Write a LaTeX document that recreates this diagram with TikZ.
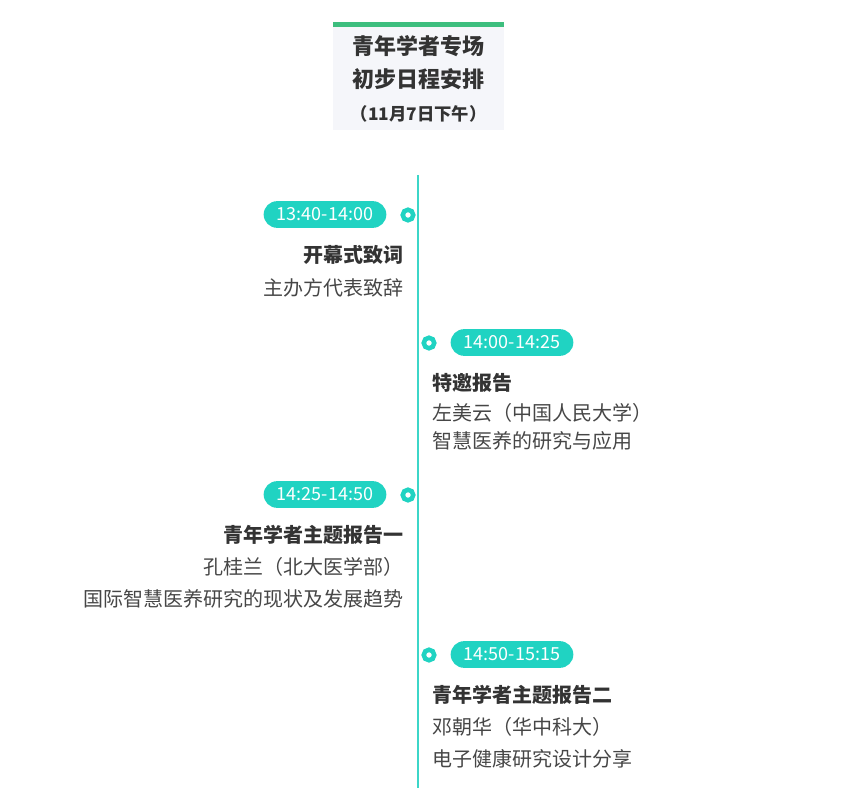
\documentclass[tikz,border=0pt]{standalone}
\usepackage{fontspec}
\setmainfont{Noto Sans CJK SC}
\usepackage{tikz}
\usetikzlibrary{positioning}
\definecolor{tlteal}{RGB}{32,211,194}
\definecolor{tlline}{RGB}{60,214,200}
\definecolor{tlgreen}{RGB}{61,190,126}
\definecolor{tlpanel}{RGB}{245,246,250}
\definecolor{tltext}{RGB}{51,51,51}
\definecolor{tlsub}{RGB}{70,70,70}

\begin{document}
\begin{tikzpicture}[x=0.75pt,y=-0.75pt,
        pill/.style={fill=tlteal,text=white,rounded corners=10pt,inner sep=0pt,
          minimum width=92pt,minimum height=20pt,font=\fontsize{13.5}{16}\selectfont},
        dot/.style={circle,draw=tlteal,fill=white,line width=3.4pt,inner sep=0pt,minimum size=7.9pt},
        ttl/.style={text=tltext,inner sep=0pt,font=\fontsize{15}{18}\selectfont\bfseries},
        sub/.style={text=tlsub,inner sep=0pt,font=\fontsize{15}{18}\selectfont},
        head/.style={text=tltext,inner sep=0pt,font=\fontsize{16.5}{20}\selectfont\bfseries}]
  \useasboundingbox (0,0) rectangle (861,788);
  % title panel
  \fill[tlpanel] (333,22) rectangle (504,130);
  \fill[tlgreen] (333,22) rectangle (504,27.5);
  \node[head] (h1) at (418.5,46) {青年学者专场};
  \node[head] (h2) at (418.5,79) {初步日程安排};
  \node[head,font=\fontsize{13}{15}\selectfont\bfseries] (h3) at (418.5,114) {（11月7日下午）};
  % axis
  \coordinate (top) at (418,175);
  \coordinate (bot) at (418,788);
  \draw[tlline,line width=0.9pt] (top) -- (bot);
  % 1
  \node[pill] (p1) at (325,214.5) {13:40-14:00};
  \node[dot] (d1) at (408,215) {};
  \node[ttl,anchor=east] (t1) at (404,255) {开幕式致词};
  \node[sub,anchor=east] (s1) at (404,288) {主办方代表致辞};
  % 2
  \node[pill] (p2) at (512,342.5) {14:00-14:25};
  \node[dot] (d2) at (429,343) {};
  \node[ttl,anchor=west] (t2) at (432,383) {特邀报告};
  \node[sub,anchor=west] (s2a) at (432,413) {左美云（中国人民大学）};
  \node[sub,anchor=west] (s2b) at (432,441) {智慧医养的研究与应用};
  % 3
  \node[pill] (p3) at (325,494.5) {14:25-14:50};
  \node[dot] (d3) at (408,495) {};
  \node[ttl,anchor=east] (t3) at (404,535) {青年学者主题报告一};
  \node[sub,anchor=east] (s3a) at (404,567) {孔桂兰（北大医学部）};
  \node[sub,anchor=east] (s3b) at (404,599) {国际智慧医养研究的现状及发展趋势};
  % 4
  \node[pill] (p4) at (512,654.5) {14:50-15:15};
  \node[dot] (d4) at (429,655) {};
  \node[ttl,anchor=west] (t4) at (432,695) {青年学者主题报告二};
  \node[sub,anchor=west] (s4a) at (432,727) {邓朝华（华中科大）};
  \node[sub,anchor=west] (s4b) at (432,759) {电子健康研究设计分享};
\end{tikzpicture}
\end{document}
